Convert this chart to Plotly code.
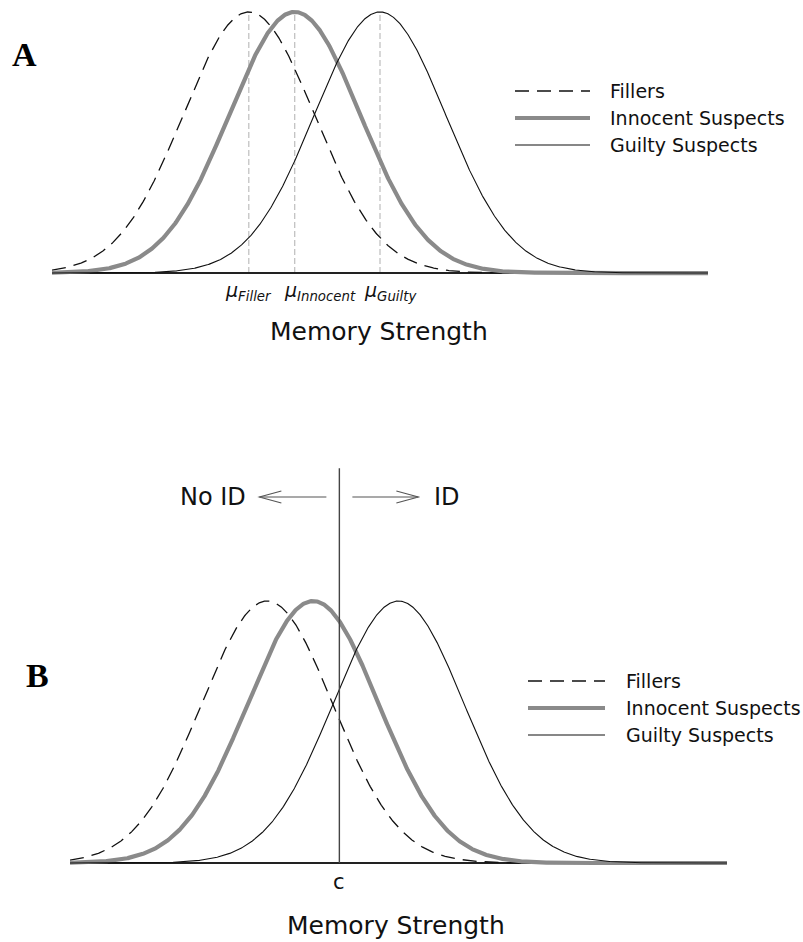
import numpy as np
import plotly.graph_objects as go

# ---------------- data ----------------
series_names = ["Fillers", "Innocent Suspects", "Guilty Suspects"]
means = [0.0, 0.7, 2.0]          # mu_Filler, mu_Innocent, mu_Guilty (in SD units)
sds = [1.0, 1.0, 1.0]
mu_labels = ["Filler", "Innocent", "Guilty"]
criterion_c = 1.1
x_range = [-3.0, 7.0]
axis_title = "Memory Strength"
panel_labels = ["A", "B"]

# ---------------- helpers ----------------
W, H = 803, 942


def px(v):
    return v / W


def py(v):
    return 1 - v / H


def pdf(x, m, s):
    return np.exp(-0.5 * ((x - m) / s) ** 2) / (s * np.sqrt(2 * np.pi))


xs = np.linspace(x_range[0], x_range[1], 1001)

styles = [
    dict(color="#111111", width=1.3, dash="14px,8px"),
    dict(color="#8a8a8a", width=4.2),
    dict(color="#111111", width=1.1),
]

FONT = "DejaVu Sans"

fig = go.Figure()
for xa, ya in [("x", "y"), ("x2", "y2")]:
    for name, m, s, st in zip(series_names, means, sds, styles):
        fig.add_trace(go.Scatter(
            x=xs, y=pdf(xs, m, s), mode="lines", name=name,
            line=st, xaxis=xa, yaxis=ya, showlegend=False, hoverinfo="skip"))

# panel geometry (pixels)
A_left, A_right = 52, 708
A_top, A_bot = 4.7, 276.3
B_left, B_right = 70, 727
B_top, B_bot = 462.4, 866.3

axis_common = dict(showgrid=False, showticklabels=False, showline=False, ticks="",
                   zeroline=False, fixedrange=True)
fig.update_layout(
    width=W, height=H, margin=dict(l=0, r=0, t=0, b=0),
    paper_bgcolor="white", plot_bgcolor="white",
    xaxis=dict(domain=[px(A_left), px(A_right)], range=x_range, anchor="y", **axis_common),
    yaxis=dict(domain=[py(A_bot), py(A_top)], range=[-0.005, 0.41], anchor="x",
               showgrid=False, showticklabels=False, showline=False, ticks="",
               zeroline=True, zerolinecolor="#222222", zerolinewidth=1.6, fixedrange=True),
    xaxis2=dict(domain=[px(B_left), px(B_right)], range=x_range, anchor="y2", **axis_common),
    yaxis2=dict(domain=[py(B_bot), py(B_top)], range=[-0.005, 0.61], anchor="x2",
                showgrid=False, showticklabels=False, showline=False, ticks="",
                zeroline=True, zerolinecolor="#222222", zerolinewidth=1.6, fixedrange=True),
    showlegend=False,
)

shapes = []
annotations = []

# dashed mean lines in panel A
for m, s in zip(means, sds):
    shapes.append(dict(type="line", xref="x", yref="y", x0=m, x1=m, y0=0, y1=pdf(m, m, s),
                       line=dict(color="#bdbdbd", width=1.2, dash="6px,3px"), layer="below"))

# mu labels (panel A)
mu_shift = [-26, -13, -18]
for m, lab, sh in zip(means, mu_labels, mu_shift):
    annotations.append(dict(x=m, xref="x", y=py(291), yref="paper", xanchor="left", yanchor="middle",
                            xshift=sh, showarrow=False,
                            text=f"<i>μ</i><sub><i>{lab}</i></sub>",
                            font=dict(family=FONT, size=19, color="#111111")))

# criterion line (panel B)
shapes.append(dict(type="line", xref="x2", yref="y2", x0=criterion_c, x1=criterion_c, y0=0, y1=0.601,
                   line=dict(color="#444444", width=1.4)))

# arrows around criterion
kx = (x_range[1] - x_range[0]) / (B_right - B_left)   # data units per pixel (x)
ky = 0.615 / (B_bot - B_top)                          # data units per pixel (y)
y_arr = (863 - 497) * ky
for sgn, near, far in [(-1, 13, 80), (1, 13, 79)]:
    x0 = criterion_c + sgn * near * kx
    x1 = criterion_c + sgn * far * kx
    shapes.append(dict(type="line", xref="x2", yref="y2", x0=x0, x1=x1, y0=y_arr, y1=y_arr,
                       line=dict(color="#555555", width=1.1)))
    hx = x1 - sgn * 22 * kx
    shapes.append(dict(type="path", xref="x2", yref="y2",
                       path=f"M {hx},{y_arr + 6 * ky} L {x1},{y_arr} L {hx},{y_arr - 6 * ky}",
                       line=dict(color="#555555", width=1.1)))

annotations.append(dict(x=px(248), y=py(497), xref="paper", yref="paper", xanchor="right",
                        yanchor="middle", showarrow=False, text="No ID",
                        font=dict(family=FONT, size=24, color="#111111")))
annotations.append(dict(x=px(432), y=py(497), xref="paper", yref="paper", xanchor="left",
                        yanchor="middle", showarrow=False, text="ID",
                        font=dict(family=FONT, size=24, color="#111111")))
annotations.append(dict(x=criterion_c, xref="x2", y=py(882), yref="paper", xanchor="center",
                        yanchor="middle", showarrow=False, text="c",
                        font=dict(family=FONT, size=21, color="#111111")))

# axis titles
annotations.append(dict(x=px(379), y=py(331), xref="paper", yref="paper", xanchor="center",
                        yanchor="middle", showarrow=False, text=axis_title,
                        font=dict(family=FONT, size=25, color="#111111")))
annotations.append(dict(x=px(396), y=py(925), xref="paper", yref="paper", xanchor="center",
                        yanchor="middle", showarrow=False, text=axis_title,
                        font=dict(family=FONT, size=25, color="#111111")))

# panel letters
annotations.append(dict(x=px(24), y=py(55), xref="paper", yref="paper", xanchor="center",
                        yanchor="middle", showarrow=False, text="<b>A</b>",
                        font=dict(family="Liberation Serif", size=34, color="#000000")))
annotations.append(dict(x=px(37), y=py(675), xref="paper", yref="paper", xanchor="center",
                        yanchor="middle", showarrow=False, text="<b>B</b>",
                        font=dict(family="Liberation Serif", size=34, color="#000000")))

# manual legends
legend_specs = [
    dict(x0=515, x1=590, tx=608, rows=[91, 118, 145]),
    dict(x0=528, x1=605, tx=624, rows=[681, 708, 735]),
]
for spec in legend_specs:
    for name, st, ry in zip(series_names, styles, spec["rows"]):
        shapes.append(dict(type="line", xref="paper", yref="paper",
                           x0=px(spec["x0"]), x1=px(spec["x1"]), y0=py(ry), y1=py(ry),
                           line=dict(color=st["color"], width=st["width"],
                                     dash=st.get("dash", "solid"))))
        annotations.append(dict(x=px(spec["tx"]), y=py(ry), xref="paper", yref="paper",
                                xanchor="left", yanchor="middle", showarrow=False, text=name,
                                font=dict(family=FONT, size=19, color="#111111")))

fig.update_layout(shapes=shapes, annotations=annotations)
fig.write_html("out.html")
